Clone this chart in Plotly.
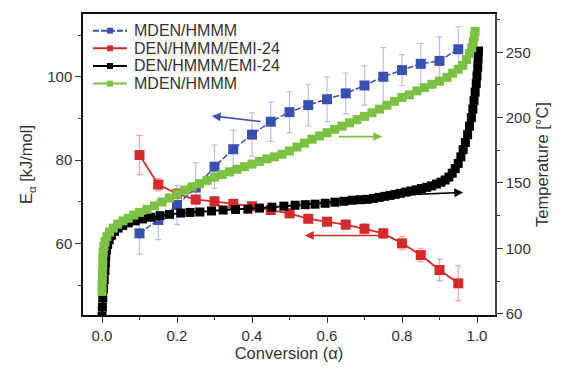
import plotly.graph_objects as go

# ---- data ----
alpha_pts = [0.10, 0.15, 0.20, 0.25, 0.30, 0.35, 0.40, 0.45, 0.50, 0.55,
             0.60, 0.65, 0.70, 0.75, 0.80, 0.85, 0.90, 0.95]

E_mden = [62.4, 65.6, 69.2, 73.4, 78.4, 82.6, 86.1, 89.2, 91.5, 93.2,
          94.6, 96.0, 97.9, 100.0, 101.6, 103.1, 103.8, 106.6]
E_mden_err = [5.0, 4.7, 4.7, 5.9, 5.2, 4.5, 5.2, 4.7, 4.9, 5.0,
              5.4, 4.9, 4.7, 7.0, 3.7, 4.9, 5.7, 5.4]

E_den = [81.2, 74.1, 71.9, 70.5, 70.1, 69.5, 68.9, 68.0, 67.2, 65.9,
         65.2, 64.5, 63.5, 62.4, 60.0, 57.2, 53.6, 50.4]
E_den_err = [4.7, 1.5, 1.2, 1.0, 1.0, 0.8, 0.8, 0.8, 0.8, 0.9,
             1.0, 1.1, 1.2, 1.2, 1.6, 1.6, 2.6, 4.2]

alpha_den_T = [0.000, 0.001, 0.002, 0.004, 0.006, 0.008, 0.009, 0.010, 0.012, 0.015,
               0.019, 0.025, 0.033, 0.043, 0.055, 0.070, 0.088, 0.108, 0.130, 0.155,
               0.180, 0.210, 0.235, 0.261, 0.292, 0.323, 0.356, 0.389, 0.420, 0.453,
               0.485, 0.515, 0.542, 0.568, 0.595, 0.621, 0.645, 0.667, 0.688, 0.707,
               0.724, 0.739, 0.754, 0.768, 0.782, 0.796, 0.810, 0.824, 0.838, 0.852,
               0.866, 0.879, 0.892, 0.904, 0.915, 0.925, 0.934, 0.942, 0.950, 0.957,
               0.963, 0.969, 0.975, 0.980, 0.985, 0.989, 0.992, 0.995, 0.998, 1.000,
               1.002, 1.003, 1.004]
T_den = [48, 55, 62, 69, 76, 83, 89, 94, 99, 103,
         106.5, 110, 113, 115.5, 117.5, 119.5, 121, 122.5, 123.8, 125,
         126, 127, 127.5, 127.8, 128.6, 129.3, 129.7, 130.0, 130.8, 131.5,
         132.3, 133.0, 133.4, 133.8, 134.5, 135.3, 136.0, 136.8, 137.2, 137.5,
         138.2, 139.0, 139.8, 140.5, 141.3, 142.1, 143.0, 143.9, 144.8, 145.8,
         146.7, 147.8, 149.2, 150.6, 152.3, 154.5, 157.5, 161, 165, 170,
         175.5, 181, 187, 193.5, 200, 206.5, 213, 219.5, 226, 232,
         238.5, 245, 251]

alpha_mden_T = [0.000, 0.000, 0.001, 0.001, 0.002, 0.002, 0.003, 0.005, 0.008, 0.013,
                0.020, 0.030, 0.042, 0.056, 0.070, 0.085, 0.100, 0.120, 0.140, 0.160,
                0.180, 0.200, 0.220, 0.240, 0.260, 0.280, 0.300, 0.320, 0.340, 0.360,
                0.380, 0.400, 0.420, 0.440, 0.460, 0.480, 0.500, 0.520, 0.540, 0.560,
                0.580, 0.600, 0.620, 0.640, 0.660, 0.680, 0.700, 0.720, 0.740, 0.760,
                0.780, 0.800, 0.820, 0.840, 0.860, 0.880, 0.900, 0.920, 0.935, 0.950,
                0.962, 0.972, 0.980, 0.986, 0.990, 0.993, 0.995]
T_mden = [67, 72, 77, 82, 87, 92, 97, 101.5, 105, 109,
          112.5, 115.5, 118.5, 121, 123, 125.5, 127.5, 129.8, 132.5, 135.5,
          138.5, 141.5, 144.5, 147, 149.5, 152, 154.5, 156.5, 158.5, 160.5,
          162.5, 164.5, 166.5, 168.5, 170, 172, 174.5, 177.5, 180.5, 183.5,
          186, 188.5, 191, 193.5, 196, 198.5, 201, 203.8, 206.5, 209.5,
          212.5, 215.5, 217.5, 220.5, 223, 225.5, 228, 230.8, 234, 237,
          240, 244.5, 249, 253.5, 258, 262, 266]

series_names = ["MDEN/HMMM", "DEN/HMMM/EMI-24", "DEN/HMMM/EMI-24", "MDEN/HMMM"]

x_ticks = [0.0, 0.2, 0.4, 0.6, 0.8, 1.0]
y2_tickvals = [50, 100, 150, 200, 250]
y2_ticktext = ["60", "100", "150", "200", "250"]

BLUE = "#3b4fb2"
RED = "#d62a2a"
GREEN = "#7cc242"
BLACK = "#000000"
FONT = "Liberation Sans, Arial, sans-serif"
colors = [BLUE, RED, BLACK, GREEN]
dashes = ["6px,2px", "solid", "solid", "solid"]

W, H = 565, 369
ML, MR, MT, MB = 83, 70, 13, 49
PW, PH = W - ML - MR, H - MT - MB


def px2paper(px, py):
    return (px - ML) / PW, 1 - (py - MT) / PH


fig = go.Figure()

fig.add_trace(go.Scatter(
    x=alpha_pts, y=E_mden, name=series_names[0], mode="lines+markers",
    line=dict(color=BLUE, width=1.5, dash=dashes[0]),
    marker=dict(symbol="square", size=10, color=BLUE),
    error_y=dict(type="data", array=E_mden_err, color="#b9c0e8", thickness=1.2, width=3),
    yaxis="y"))

fig.add_trace(go.Scatter(
    x=alpha_pts, y=E_den, name=series_names[1], mode="lines+markers",
    line=dict(color=RED, width=1.8),
    marker=dict(symbol="square", size=10, color=RED),
    error_y=dict(type="data", array=E_den_err, color="#f0a3a3", thickness=1.2, width=3),
    yaxis="y"))

fig.add_trace(go.Scatter(
    x=alpha_den_T, y=T_den, name=series_names[2], mode="lines+markers",
    line=dict(color=BLACK, width=2),
    marker=dict(symbol="square", size=9, color=BLACK),
    yaxis="y2"))

fig.add_trace(go.Scatter(
    x=alpha_mden_T, y=T_mden, name=series_names[3], mode="lines+markers",
    line=dict(color=GREEN, width=2),
    marker=dict(symbol="square", size=9, color=GREEN),
    yaxis="y2"))

# legend drawn in the style of the original (compact, small symbols)
for i, (name, col, dash) in enumerate(zip(series_names, colors, dashes)):
    py = 30 + 18 * i
    x0, yy = px2paper(93, py)
    x1, _ = px2paper(127, py)
    xm, _ = px2paper(110, py)
    xt, _ = px2paper(132, py)
    fig.add_shape(type="line", xref="paper", yref="paper", x0=x0, x1=x1, y0=yy, y1=yy,
                  line=dict(color=col, width=2, dash=dash if dash != "solid" else None))
    hx = 3 / PW
    hy = 3 / PH
    fig.add_shape(type="rect", xref="paper", yref="paper",
                  x0=xm - hx, x1=xm + hx, y0=yy - hy, y1=yy + hy,
                  line=dict(width=0), fillcolor=col)
    fig.add_annotation(x=xt, y=yy, xref="paper", yref="paper", text=name,
                       showarrow=False, xanchor="left", yanchor="middle",
                       font=dict(family=FONT, size=16, color="#333333"))

# arrows
arrows = [
    dict(x=0.293, y=90.6, ax=0.427, ay=89.2, yref="y", color=BLUE),
    dict(x=0.541, y=61.9, ax=0.747, ay=61.9, yref="y", color=RED),
    dict(x=0.963, y=142.8, ax=0.768, ay=140.5, yref="y2", color=BLACK),
    dict(x=0.747, y=185.5, ax=0.627, ay=185.5, yref="y2", color=GREEN),
]
for a in arrows:
    fig.add_annotation(x=a["x"], y=a["y"], ax=a["ax"], ay=a["ay"],
                       xref="x", yref=a["yref"], axref="x", ayref=a["yref"],
                       showarrow=True, arrowhead=2, arrowsize=1.1, arrowwidth=1.6,
                       arrowcolor=a["color"], text="")

axis_font = dict(family=FONT, size=15, color="#333333")
title_font = dict(family=FONT, size=16.5, color="#333333")

fig.update_layout(
    width=W, height=H,
    margin=dict(l=ML, r=MR, t=MT, b=MB),
    paper_bgcolor="white", plot_bgcolor="white",
    font=dict(family=FONT, size=15, color="#333333"),
    showlegend=False,
    xaxis=dict(range=[-0.0507, 1.048], tickvals=x_ticks, tickformat=".1f",
               ticks="outside", ticklen=6, tickcolor="#333", tickwidth=1.2,
               minor=dict(dtick=0.1, tick0=0, ticks="outside", ticklen=3, tickcolor="#333"),
               showline=True, linecolor="#111", linewidth=1.5, mirror=True,
               showgrid=False, zeroline=False, tickfont=axis_font,
               title=dict(text="Conversion (α)", font=title_font, standoff=2)),
    yaxis=dict(range=[42.8, 115.06], tick0=0, dtick=20,
               ticks="outside", ticklen=6, tickcolor="#333", tickwidth=1.2,
               minor=dict(dtick=10, tick0=0, ticks="outside", ticklen=3, tickcolor="#333"),
               showline=True, linecolor="#111", linewidth=1.5,
               showgrid=False, zeroline=False, tickfont=axis_font,
               title=dict(text="E<sub>α</sub> [kJ/mol]", font=title_font, standoff=10)),
    yaxis2=dict(range=[49, 279.3], overlaying="y", side="right",
                tickvals=y2_tickvals, ticktext=y2_ticktext,
                ticks="outside", ticklen=6, tickcolor="#333", tickwidth=1.2,
                minor=dict(tickvals=[75, 125, 175, 225, 275], ticks="outside", ticklen=3, tickcolor="#333"),
                showline=True, linecolor="#444", linewidth=1.5,
                showgrid=False, zeroline=False, tickfont=axis_font,
                title=dict(text="Temperature [°C]", font=title_font, standoff=7)),
)

fig.write_html("out.html")
